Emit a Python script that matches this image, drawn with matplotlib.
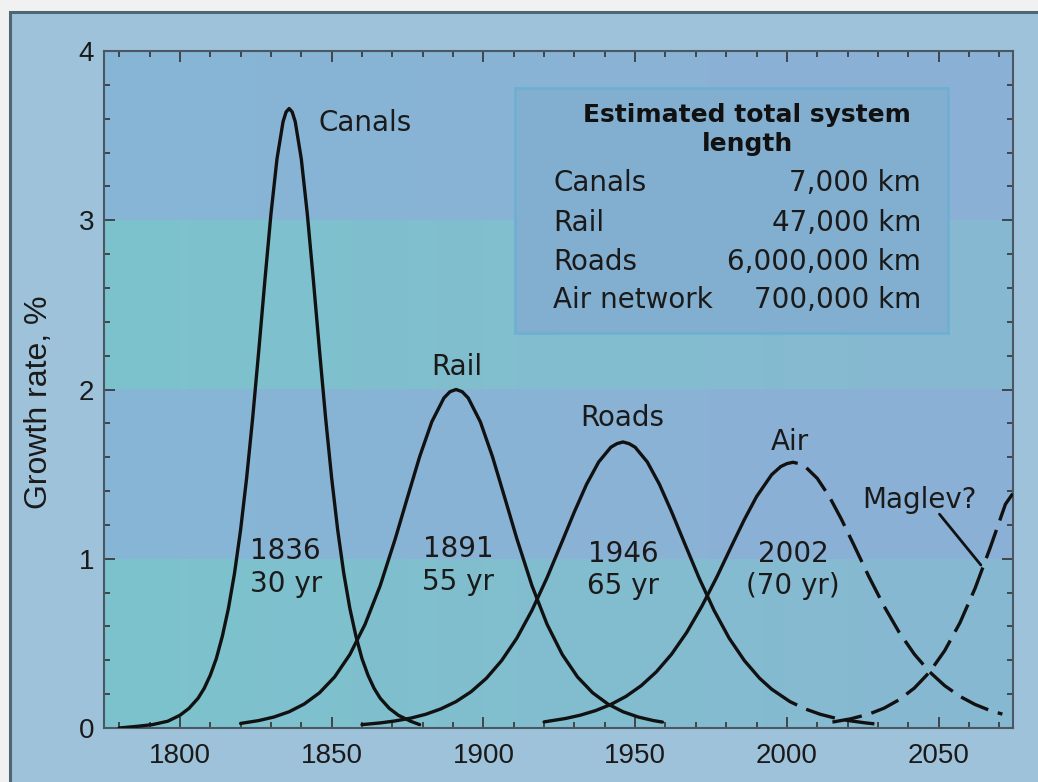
import numpy as np
import matplotlib.pyplot as plt
from matplotlib.patches import Rectangle
from matplotlib.ticker import MultipleLocator
from matplotlib import font_manager

# growth rate curves (% per year)
canal_years = [1780, 1786, 1791, 1796, 1800, 1803, 1806, 1808, 1810, 1812, 1814, 1816, 1818,
               1820, 1822, 1824, 1826, 1828, 1830, 1832, 1834, 1835, 1836, 1837, 1838, 1840,
               1842, 1844, 1846, 1848, 1850, 1852, 1854, 1856, 1858, 1860, 1862, 1864, 1866,
               1869, 1872, 1876, 1879]
canal_rate = [0.0, 0.01, 0.02, 0.04, 0.075, 0.116, 0.176, 0.234, 0.311, 0.41, 0.543, 0.707, 0.914,
              1.17, 1.478, 1.835, 2.231, 2.643, 3.035, 3.363, 3.583, 3.64, 3.66, 3.64, 3.583, 3.363,
              3.035, 2.643, 2.231, 1.835, 1.478, 1.17, 0.914, 0.707, 0.543, 0.41, 0.311, 0.234, 0.176,
              0.116, 0.075, 0.04, 0.02]

rail_years = [1820, 1826, 1831, 1836, 1841, 1846, 1851, 1856, 1861, 1866, 1871, 1875, 1879, 1883,
              1887, 1889, 1891, 1893, 1895, 1899, 1903, 1907, 1911, 1916, 1921, 1926, 1931, 1936,
              1941, 1946, 1951, 1956, 1959]
rail_rate = [0.027, 0.044, 0.065, 0.096, 0.142, 0.208, 0.302, 0.434, 0.612, 0.841, 1.12, 1.363, 1.603,
             1.809, 1.95, 1.987, 2.0, 1.987, 1.95, 1.809, 1.603, 1.363, 1.12, 0.841, 0.612, 0.434,
             0.302, 0.208, 0.142, 0.096, 0.065, 0.044, 0.035]

road_years = [1860, 1866, 1871, 1876, 1881, 1886, 1891, 1896, 1901, 1906, 1911, 1916, 1921, 1926,
              1930, 1934, 1938, 1942, 1944, 1946, 1948, 1950, 1954, 1958, 1962, 1966, 1971, 1976,
              1981, 1986, 1991, 1995, 2001, 2006, 2011, 2016, 2021, 2026, 2030]
road_rate = [0.02, 0.03, 0.042, 0.058, 0.081, 0.113, 0.156, 0.215, 0.294, 0.398, 0.53, 0.695, 0.889,
             1.104, 1.278, 1.44, 1.572, 1.659, 1.68, 1.69, 1.68, 1.659, 1.572, 1.44, 1.278, 1.104,
             0.889, 0.695, 0.53, 0.398, 0.294, 0.229, 0.156, 0.113, 0.081, 0.058, 0.042, 0.03, 0.022]

air_years = [1920, 1927, 1932, 1937, 1942, 1947, 1952, 1957, 1962, 1967, 1972, 1977, 1982, 1986,
             1990, 1995, 1998, 2000, 2002, 2004, 2006, 2010, 2014, 2018, 2022, 2027, 2032, 2037,
             2042, 2047, 2052, 2057, 2062, 2067, 2071]
air_rate = [0.036, 0.056, 0.076, 0.103, 0.139, 0.187, 0.25, 0.332, 0.436, 0.565, 0.72, 0.895, 1.084,
            1.232, 1.367, 1.497, 1.545, 1.562, 1.57, 1.562, 1.545, 1.475, 1.367, 1.232, 1.084, 0.895,
            0.72, 0.565, 0.436, 0.332, 0.25, 0.187, 0.139, 0.103, 0.082]

maglev_years = [2015, 2021, 2027, 2032, 2037, 2042, 2047, 2052, 2057, 2062, 2067, 2072, 2075]
maglev_rate = [0.035, 0.054, 0.082, 0.117, 0.167, 0.236, 0.33, 0.457, 0.621, 0.825, 1.066, 1.322, 1.40]

present_year = 1995  # curves turn dashed after this

curve_names = ['Canals', 'Rail', 'Roads', 'Air', 'Maglev?']
peak_notes = ['1836\n30 yr', '1891\n55 yr', '1946\n65 yr', '2002\n(70 yr)']

table_title = 'Estimated total system\nlength'
table_rows = ['Canals', 'Rail', 'Roads', 'Air network']
table_lengths = ['7,000 km', '47,000 km', '6,000,000 km', '700,000 km']

avail = {f.name for f in font_manager.fontManager.ttflist}
tick_font = 'Liberation Sans Narrow' if 'Liberation Sans Narrow' in avail else 'Liberation Sans'
tick_size = 24 if tick_font == 'Liberation Sans Narrow' else 20

W, H = 1038, 782
fig = plt.figure(figsize=(W / 100, H / 100), dpi=100)
fig.patch.set_facecolor('#f1f1f1')
fig.patches.append(Rectangle((10 / W, -0.02), 1.0, 1 - 12 / H + 0.02, transform=fig.transFigure,
                             fc='#9dc2da', ec='#4e6574', lw=2.2, zorder=-5))

ax = fig.add_axes([104 / W, 1 - 728 / H, 909 / W, 677 / H])
ax.set_zorder(2)
x0, x1 = 1775, 2074.5

# horizontal bands, greener on the left and bluer on the right
teal = (np.array([124, 195, 204]) / 255, np.array([136, 184, 210]) / 255)
blue = (np.array([134, 182, 214]) / 255, np.array([140, 176, 213]) / 255)
g = np.linspace(0, 1, 300)[:, None]
for i in range(4):
    c0, c1 = teal if i % 2 == 0 else blue
    img = ((1 - g) * c0 + g * c1)[None, :, :]
    ax.imshow(img, extent=[x0, x1, i, i + 1], aspect='auto', zorder=0, interpolation='bilinear')

line_kw = dict(color='#111111', lw=2.4, solid_capstyle='round', zorder=3)
dash_kw = dict(color='#111111', lw=2.4, dashes=(9, 3), dash_capstyle='butt', zorder=3)

for yrs, rate in [(canal_years, canal_rate), (rail_years, rail_rate),
                  (road_years, road_rate), (air_years, air_rate)]:
    yrs = np.array(yrs)
    rate = np.array(rate)
    past = yrs <= present_year
    ax.plot(yrs[past], rate[past], **line_kw)
    future = yrs >= present_year
    if future.sum() > 1:
        ax.plot(yrs[future], rate[future], **dash_kw)
ax.plot(maglev_years, maglev_rate, **dash_kw)

txt = dict(fontsize=20, color='#1a1a1a', family='DejaVu Sans', zorder=4)
ax.text(1845.7, 3.575, curve_names[0], ha='left', va='center', **txt)
ax.text(1891.4, 2.13, curve_names[1], ha='center', va='center', **txt)
ax.text(1945.9, 1.83, curve_names[2], ha='center', va='center', **txt)
ax.text(2001, 1.69, curve_names[3], ha='center', va='center', **txt)
ax.text(2043.6, 1.347, curve_names[4], ha='center', va='center', **txt)
ax.annotate('', xy=(2064.5, 0.95), xytext=(2049.7, 1.276),
            arrowprops=dict(arrowstyle='-', color='#111111', lw=2.0), zorder=4)

for xpos, ypos, note in zip([1834.9, 1891.8, 1946, 2002], [0.948, 0.96, 0.933, 0.933], peak_notes):
    ax.text(xpos, ypos, note, ha='center', va='center', linespacing=1.2, **txt)

# table box
ax.add_patch(Rectangle((0.452, 0.5835), 0.4765, 0.3615, transform=ax.transAxes,
                       fc='#82aecf', ec='#6fb0d2', lw=2, zorder=5))
ax.text(0.7074, 0.884, table_title, transform=ax.transAxes, ha='center', va='center',
        fontsize=18, fontweight='bold', color='#111111', linespacing=1.3, zorder=6)
for name, length, yy in zip(table_rows, table_lengths, [0.805, 0.746, 0.688, 0.632]):
    ax.text(0.494, yy, name, transform=ax.transAxes, ha='left', va='center',
            fontsize=20, color='#1a1a1a', zorder=6)
    ax.text(0.899, yy, length, transform=ax.transAxes, ha='right', va='center',
            fontsize=20, color='#1a1a1a', zorder=6)

ax.set_xlim(x0, x1)
ax.set_ylim(0, 4)
ax.xaxis.set_major_locator(MultipleLocator(50))
ax.xaxis.set_minor_locator(MultipleLocator(10))
ax.yaxis.set_major_locator(MultipleLocator(1))
ax.yaxis.set_minor_locator(MultipleLocator(0.2))
ax.set_xticks([1800, 1850, 1900, 1950, 2000, 2050])
ax.tick_params(which='both', direction='in', top=True, right=True, color='#333333', width=1.2)
ax.tick_params(which='major', length=8)
ax.tick_params(which='minor', length=4.5)
ax.tick_params(axis='x', which='major', pad=11, labelsize=tick_size, labelcolor='#1a1a1a')
ax.tick_params(axis='y', which='major', pad=7, labelsize=tick_size, labelcolor='#1a1a1a')
for lab in ax.get_xticklabels() + ax.get_yticklabels():
    lab.set_family(tick_font)
for sp in ax.spines.values():
    sp.set_color('#4a5864')
    sp.set_linewidth(1.5)

fig.text(39 / W, 1 - 402 / H, 'Growth rate, %', rotation=90, ha='center', va='center',
         fontsize=23, family='Liberation Sans', color='#1a1a1a')

fig.savefig('out.png', dpi=100, facecolor=fig.get_facecolor())
